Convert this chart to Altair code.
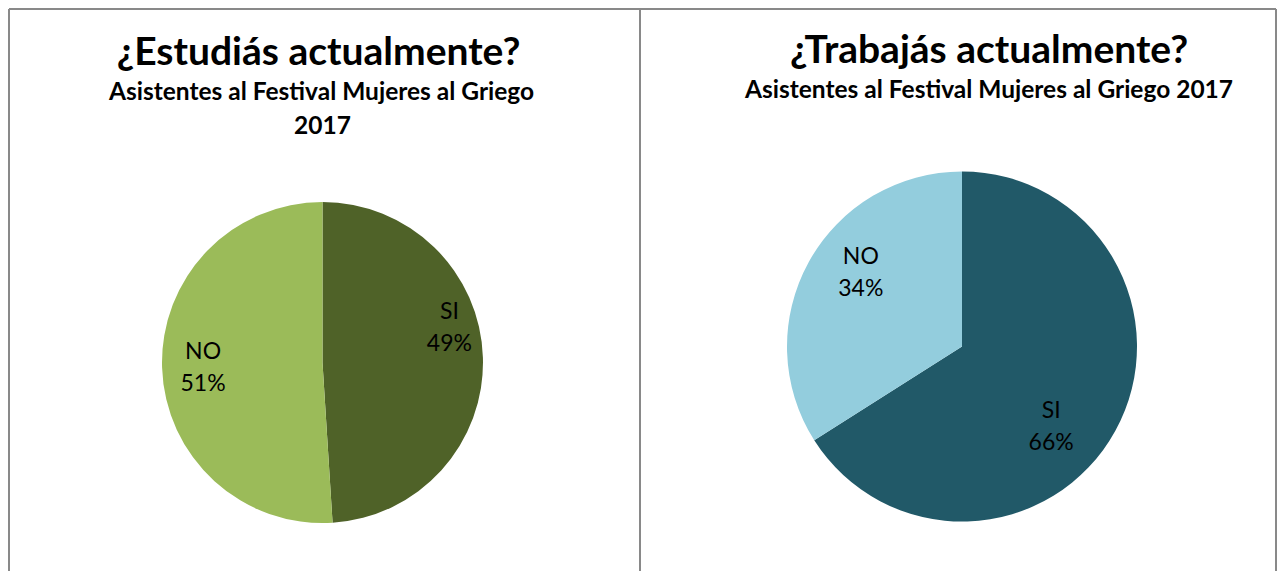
import altair as alt
import pandas as pd

# ---- data ----
categories = ["SI", "NO"]
estudia_values = [49, 51]
trabaja_values = [66, 34]

titles = ["¿Estudiás actualmente?", "¿Trabajás actualmente?"]
subtitle_left = ["Asistentes al Festival Mujeres al Griego", "2017"]
subtitle_right = ["Asistentes al Festival Mujeres al Griego 2017"]

colors_estudia = ["#4F6228", "#9BBB59"]
colors_trabaja = ["#215968", "#93CDDD"]

FONT = "Lato"
W, H = 1269, 563
OFF = 8  # page margin


def pie_df(values):
    return pd.DataFrame({"cat": categories, "value": values, "idx": list(range(len(categories)))})


def pie_layers(values, colors, cx, cy, r, label_specs):
    df = pie_df(values)
    base = alt.Chart(df)
    arc = base.mark_arc(outerRadius=r, stroke=None).encode(
        theta=alt.Theta("value:Q", stack=True),
        order=alt.Order("idx:Q"),
        color=alt.Color("cat:N", scale=alt.Scale(domain=categories, range=colors), legend=None),
        x=alt.value(cx - OFF),
        y=alt.value(cy - OFF),
    )
    layers = [arc]
    for cat, rad, dx, dy in label_specs:
        t = (
            base.transform_window(cum="sum(value)", sort=[alt.SortField("idx")], frame=[None, 0])
            .transform_calculate(mid="datum.cum - datum.value/2",
                                 label="datum.cat + '\\n' + datum.value + '%'")
            .transform_filter(alt.datum.cat == cat)
            .mark_text(radius=rad, dx=dx, dy=dy, font=FONT, fontSize=23, color="black",
                       align="center", baseline="middle", lineBreak="\n", lineHeight=32)
            .encode(
                theta=alt.Theta("mid:Q", scale=alt.Scale(domain=[0, 100]), stack=None),
                text="label:N",
                x=alt.value(cx - OFF),
                y=alt.value(cy - OFF),
            )
        )
        layers.append(t)
    return layers


def text_layer(txt, x, y, size, weight="bold"):
    return alt.Chart(pd.DataFrame({"t": [txt]})).mark_text(
        font=FONT, fontSize=size, fontWeight=weight, color="black",
        align="center", baseline="alphabetic"
    ).encode(text="t:N", x=alt.value(x - OFF), y=alt.value(y - OFF))


def rule(x, x2, y, y2):
    return alt.Chart(pd.DataFrame({"a": [0]})).mark_rule(color="#898989", strokeWidth=2).encode(
        x=alt.value(x), x2=alt.value(x2), y=alt.value(y), y2=alt.value(y2)
    )


borders = [
    rule(1, W - 1, 1, 1),          # top
    rule(1, 1, 1, H),              # left
    rule(632, 632, 1, H),          # divider
    rule(W - 1, W - 1, 1, H),      # right
]

left = pie_layers(estudia_values, colors_estudia, 322.5, 362.5, 160.5,
                  [("SI", 127, 0, -46.5), ("NO", 119.5, 0, -14)])
right = pie_layers(trabaja_values, colors_trabaja, 962, 346.5, 175,
                   [("SI", 120, -16, 7), ("NO", 120, 4, -32)])

texts = [
    text_layer(titles[0], 318.5, 65, 39),
    text_layer(subtitle_left[0], 321.5, 100, 24.5),
    text_layer(subtitle_left[1], 322.5, 134, 24.5),
    text_layer(titles[1], 989, 63, 39),
    text_layer(subtitle_right[0], 989, 98, 24.5),
]

chart = alt.layer(*borders, *left, *right, *texts).resolve_scale(
    color="independent", theta="independent"
).properties(
    width=W, height=H,
    autosize=alt.AutoSizeParams(type="fit", contains="padding"),
    padding=0,
).configure_view(stroke=None)

chart.save("out.html", embed_options={"renderer": "svg", "actions": False})
